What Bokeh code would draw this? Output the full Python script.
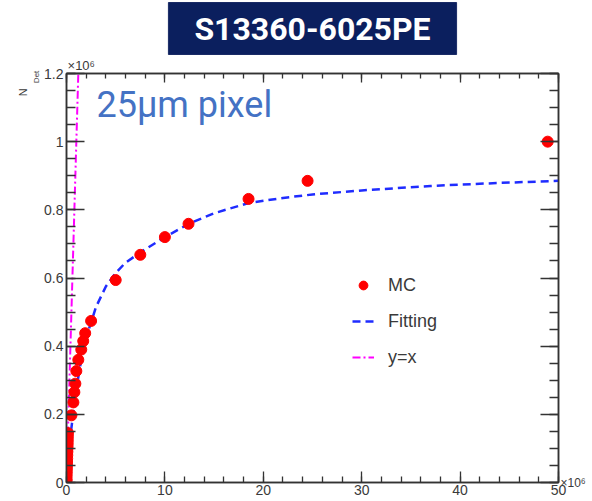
from bokeh.plotting import figure
from bokeh.models import (Range1d, FixedTicker, LinearAxis, Label, Legend, LegendItem,
                          NumeralTickFormatter, ColumnDataSource, CustomJSTickFormatter)
from bokeh.embed import file_html
from bokeh.resources import INLINE

# ---------------- data (units of 10^6) ----------------
mc_x = [0.005, 0.01, 0.02, 0.03, 0.04, 0.05, 0.06, 0.07, 0.08, 0.09, 0.10, 0.11, 0.12, 0.13, 0.14, 0.15,
        0.5, 0.7, 0.8, 0.9, 1.0, 1.2, 1.5, 1.7, 1.9, 2.5,
        5.0, 7.5, 10.0, 12.4, 18.5, 24.5, 48.9]
mc_y = [0.005, 0.01, 0.02, 0.03, 0.04, 0.05, 0.06, 0.07, 0.08, 0.09, 0.10, 0.108, 0.116, 0.125, 0.135, 0.145,
        0.197, 0.235, 0.265, 0.29, 0.327, 0.36, 0.39, 0.415, 0.438, 0.474,
        0.594, 0.668, 0.72, 0.759, 0.832, 0.885, 1.0]

fit_x = [0, 0.25, 0.5, 0.75, 1.0, 1.5, 2.0, 2.5, 3.0, 4.0, 5.0, 6.0, 7.5, 10, 12.5, 15, 18.5, 22, 25, 30, 37, 44, 50]
fit_y = [0, 0.09, 0.16, 0.22, 0.275, 0.36, 0.425, 0.47, 0.515, 0.575, 0.615, 0.645, 0.675, 0.72, 0.76, 0.79,
         0.82, 0.835, 0.845, 0.857, 0.87, 0.879, 0.885]

yx_x = [0, 1.2]
yx_y = [0, 1.2]

x_major = [0, 10, 20, 30, 40, 50]
x_minor = [v * 2 for v in range(0, 26)]
y_major = [0, 0.2, 0.4, 0.6, 0.8, 1.0, 1.2]
y_minor = [round(v * 0.05, 2) for v in range(0, 25)]

title_text = "S13360-6025PE"
pixel_text = "25\u03bcm pixel"
legend_labels = ["MC", "Fitting", "y=x"]
exp_text = "\u00d710\u2076"
ytitle_main = "N"
ytitle_sub = "Det"

# ---------------- figure ----------------
p = figure(frame_width=492, frame_height=409,
           min_border_left=66, min_border_top=66, min_border_right=26, min_border_bottom=16,
           x_range=Range1d(0, 50), y_range=Range1d(0, 1.2), title=title_text,
           output_backend="svg", toolbar_location=None, x_axis_location=None, y_axis_location=None)
p.xgrid.visible = False
p.ygrid.visible = False
p.outline_line_color = "#333333"
p.outline_line_width = 1.5
p.background_fill_color = "white"
p.border_fill_color = "white"

t = p.title
t.text_font = "Roboto"
t.text_font_style = "bold"
t.text_font_size = "32px"
t.text_color = "white"
t.align = "center"
t.background_fill_color = "#0b1f5e"
t.border_line_color = "#1a2b66"
t.padding = (26, 7)
t.standoff = 0

AX = "#333333"
TXT = "#3a3a3a"
FONT = "Liberation Sans"

def make_axis(ticks, minors, tick_len, minor_len, size="14px"):
    ax = LinearAxis(ticker=FixedTicker(ticks=ticks, minor_ticks=minors))
    ax.axis_line_color = AX
    ax.axis_line_width = 1.5
    ax.major_tick_line_color = AX
    ax.minor_tick_line_color = AX
    ax.major_tick_line_width = 1.3
    ax.minor_tick_line_width = 1.3
    ax.major_tick_in = tick_len
    ax.major_tick_out = 0
    ax.minor_tick_in = minor_len
    ax.minor_tick_out = 0
    ax.major_label_text_font = FONT
    ax.major_label_text_font_size = size
    ax.major_label_text_color = TXT
    ax.major_label_standoff = 3
    return ax

def label_axis(text, pos, size, standoff, vertical):
    ax = LinearAxis(ticker=FixedTicker(ticks=[pos], minor_ticks=[]),
                    formatter=CustomJSTickFormatter(args=dict(s=text), code="return s;"))
    ax.axis_line_color = None
    ax.major_tick_line_color = None
    ax.minor_tick_line_color = None
    ax.major_tick_in = 0
    ax.major_tick_out = 0
    if vertical:
        ax.major_label_orientation = "vertical"
    ax.major_label_text_font = FONT
    ax.major_label_text_font_size = size
    ax.major_label_text_color = TXT
    ax.major_label_standoff = standoff
    return ax

bottom = make_axis(x_major, x_minor, 11, 6)
bottom.major_label_standoff = 2
top = make_axis(x_major, x_minor, 9, 5, "1px")
top.formatter = CustomJSTickFormatter(code="return '';")
top.major_label_standoff = 0
left = make_axis(y_major, y_minor, 18, 9)
left.formatter = NumeralTickFormatter(format="0.[0]")
right = make_axis(y_major, y_minor, 18, 9, "12px")
right.formatter = CustomJSTickFormatter(args=dict(s=exp_text), code="return tick == 0 ? s : '';")
right.major_label_text_baseline = "middle"
right.major_label_standoff = 2

# multiplier above the y axis, axis title N_Det
yexp_axis = label_axis(exp_text, 1.5, "13px", 1, False)
det_axis = label_axis(ytitle_sub, 1.19, "8px", 0, True)
n_axis = label_axis(ytitle_main, 1.145, "11px", 0, True)

p.add_layout(bottom, "below")
p.add_layout(top, "above")
p.add_layout(yexp_axis, "above")
p.add_layout(left, "left")
p.add_layout(det_axis, "left")
p.add_layout(n_axis, "left")
p.add_layout(right, "right")

# ---------------- glyphs ----------------
r_yx = p.line(yx_x, yx_y, line_color="#ff00ff", line_width=2, line_dash="8 3 2 3")
r_fit = p.line(fit_x, fit_y, line_color="#1f2cff", line_width=2.5, line_dash="8 5")
src = ColumnDataSource(dict(x=mc_x, y=mc_y))
r_mc = p.scatter("x", "y", source=src, size=11, fill_color="#ff0000", line_color="#ff0000")

legend = Legend(items=[LegendItem(label=legend_labels[0], renderers=[r_mc]),
                       LegendItem(label=legend_labels[1], renderers=[r_fit]),
                       LegendItem(label=legend_labels[2], renderers=[r_yx])],
                location=(286, 113))
legend.border_line_alpha = 0
legend.background_fill_alpha = 0
legend.padding = 0
legend.margin = 0
legend.spacing = 12
legend.glyph_width = 22
legend.glyph_height = 24
legend.label_height = 24
legend.label_standoff = 14
legend.label_text_font = FONT
legend.label_text_font_size = "18px"
legend.label_text_color = TXT
p.add_layout(legend, "center")

# pixel size annotation (inside the frame)
p.add_layout(Label(x=0, y=1.2, x_offset=30, y_offset=-31, text=pixel_text, text_baseline="alphabetic",
                   text_font_size="36px", text_color="#4472c4", text_font="Roboto"))

open("out.html", "w").write(file_html(p, INLINE))
